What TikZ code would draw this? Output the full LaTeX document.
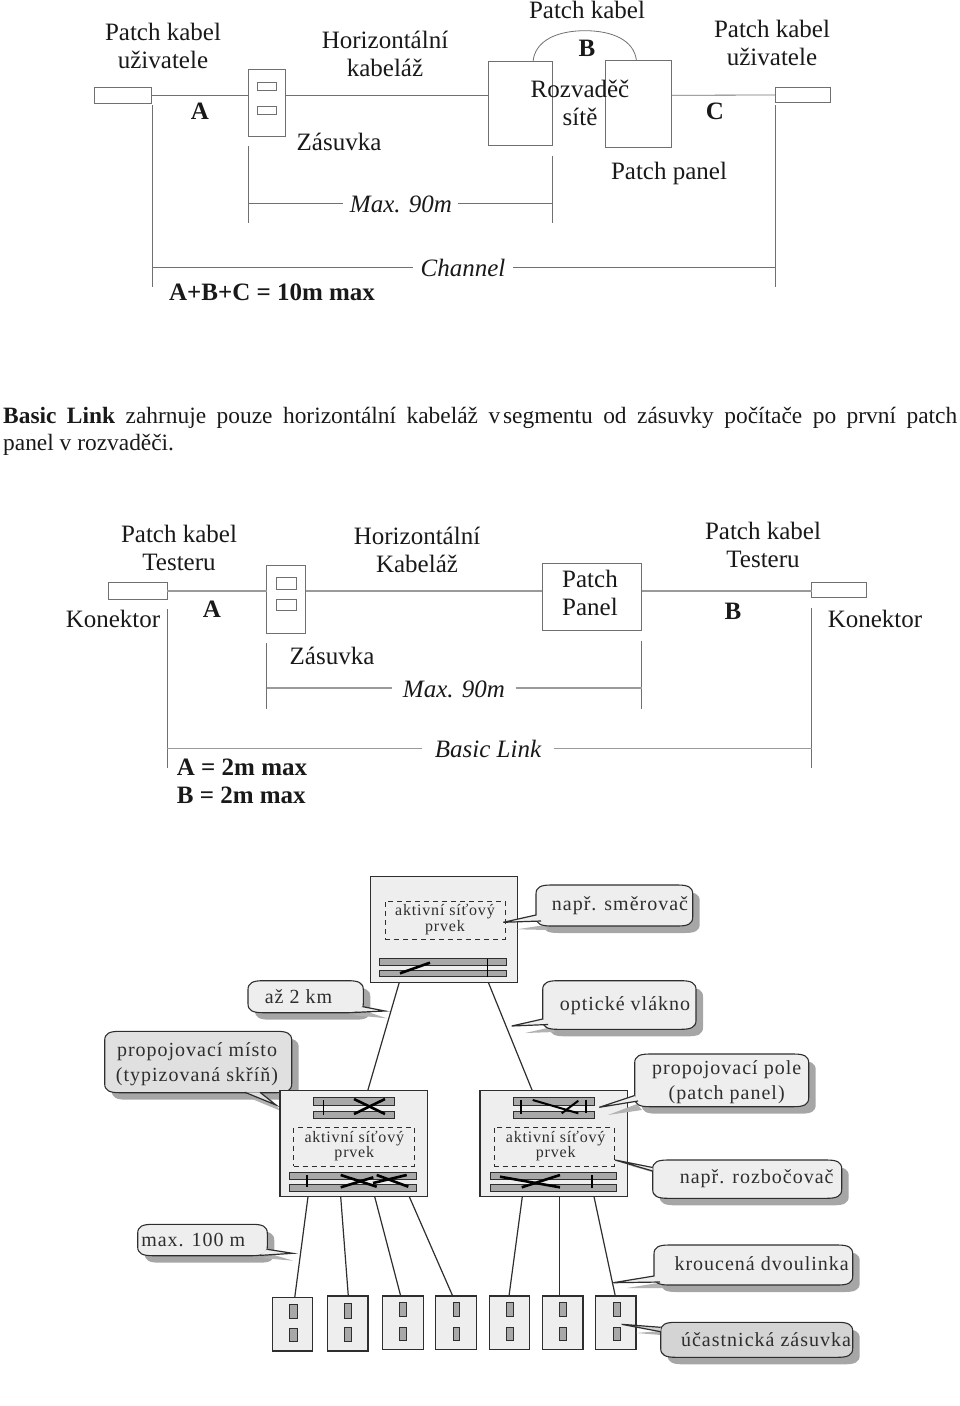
\documentclass[tikz,border=0pt]{standalone}
\usepackage{fontspec}
\setmainfont{Liberation Serif}
\newfontfamily\bmp[LetterSpace=5]{Liberation Serif}
\definecolor{lineg}{HTML}{707070}
\definecolor{lineh}{HTML}{9A9A9A}
\definecolor{ink}{HTML}{2E2E2E}
\definecolor{pale}{HTML}{EEEEEE}
\definecolor{mid}{HTML}{A8A8A8}
\definecolor{shadowgray}{HTML}{A6A6A6}
\tikzset{
  lbl/.style={font=\fontsize{25}{28}\selectfont,align=center,inner sep=0,text=black!90},
  lblb/.style={lbl,font=\fontsize{25}{28}\selectfont\bfseries},
  lbli/.style={lbl,font=\fontsize{25}{28}\selectfont\itshape},
  thin box/.style={draw=lineg,line width=0.8pt,fill=white},
  hline/.style={draw=lineg,line width=0.8pt},
  hthick/.style={draw=lineh,line width=1.3pt},
  sbox/.style={draw=ink,line width=1.2pt,fill=pale},
  bar/.style={draw=ink,line width=0.9pt,fill=mid},
  dbox/.style={draw=ink,line width=1pt,dash pattern=on 5pt off 4pt},
  mark thick/.style={draw=black,line width=2.6pt},
  mark thin/.style={draw=black,line width=1.4pt},
  cable/.style={draw=ink,line width=1.2pt},
  ctext/.style={font=\bmp\fontsize{20}{25.5}\selectfont,align=center,inner sep=0,text=ink},
  itext/.style={font=\bmp\fontsize{16}{15.5}\selectfont,align=center,inner sep=0,text=ink},
}
\newcommand\bx[6]{\node[#6,rectangle,inner sep=0pt,outer sep=0pt,minimum width={(#4-(#2))*1pt},minimum height={(#5-(#3))*1pt}] (#1) at ({(#2+#4)/2},{(#3+#5)/2}) {};}
\newcommand\cpath[4]{({#1+15},#2) -- ({#3-15},#2) .. controls ({#3-5},#2) and (#3,{#2+2}) .. (#3,{#2+9}) -- (#3,{#4-9}) .. controls (#3,{#4-2}) and ({#3-5},#4) .. ({#3-15},#4) -- ({#1+15},#4) .. controls ({#1+5},#4) and (#1,{#4-2}) .. (#1,{#4-9}) -- (#1,{#2+9}) .. controls (#1,{#2+2}) and ({#1+5},#2) .. ({#1+15},#2) -- cycle}
% shadow body: x1 y1 x2 y2
\newcommand\cshadow[4]{\fill[shadowgray] \cpath{#1+7}{#2+7}{#3+7}{#4+7};}
% light shadow tail: a tip b
\newcommand\cstail[3]{\fill[black!30] #1 -- #2 -- #3 -- cycle;}
\newcommand\cbody[5]{\draw[draw=ink,line width=1.1pt,fill=#5] \cpath{#1}{#2}{#3}{#4};}
% tail: a tip b fill
\newcommand\ctail[4]{\fill[#4] #1 -- #2 -- #3 -- cycle; \draw[draw=ink,line width=1.2pt] #1 -- #2 -- #3;}
\begin{document}
\begin{tikzpicture}[x=1pt,y=-1pt]
\useasboundingbox (0,0) rectangle (960,1406);

% ---------- first diagram ----------
\bx{cl}{94.4}{87}{151.7}{103.5}{thin box}
\bx{ou}{248.2}{69.7}{285.5}{136.3}{thin box}
\bx{ouA}{257.2}{82.7}{276.6}{90.7}{thin box}
\bx{ouB}{257.2}{106}{276.6}{114.3}{thin box}
\bx{pa}{488.1}{61.7}{552.8}{145.7}{thin box}
\bx{pb}{605}{60.3}{671.8}{147}{thin box}
\bx{cr}{775.3}{87.3}{830}{102.7}{thin box}
\draw[hline] (cl.east) -- (cl.east -| ou.west);
\draw[hline] (cl.east -| ou.east) -- (cl.east -| pa.west);
\draw[hline] (cl.east -| pb.east) -- (cr.west);
\draw[hline] (533,61.7) .. controls (535,40) and (558,30.7) .. (585,30.7) .. controls (612,30.7) and (634,40) .. (636.4,60.3);
\coordinate (d1a) at (248.2,145.7); \coordinate (d1b) at (248.2,223.3);
\coordinate (d2a) at (552.8,155.7); \coordinate (d2b) at (552.8,223.3);
\coordinate (d1m) at (248.2,203.3); \coordinate (d2m) at (552.8,203.3);
\draw[hline] (d1a) -- (d1b); \draw[hline] (d2a) -- (d2b);
\node[lbli] (max1) at (401,204) {Max. 90m};
\draw[hline] (d1m) -- (342.8,203.3); \draw[hline] (458.2,203.3) -- (d2m);
\coordinate (e1a) at (152.2,105); \coordinate (e1b) at (152.2,287.3);
\coordinate (e2a) at (775.3,105); \coordinate (e2b) at (775.3,287.3);
\coordinate (e1m) at (152.2,267.3); \coordinate (e2m) at (775.3,267.3);
\draw[hline] (e1a) -- (e1b); \draw[hline] (e2a) -- (e2b);
\node[lbli] (chan) at (463,268) {Channel};
\draw[hline] (e1m) -- (412.5,267.3); \draw[hline] (513,267.3) -- (e2m);

\node[lbl] (t1) at (163,46) {Patch kabel\\uživatele};
\node[lblb] (t2) at (200,111) {A};
\node[lbl] (t3) at (385,54) {Horizontální\\kabeláž};
\node[lbl] (t4) at (587,10) {Patch kabel};
\node[lblb] (t5) at (587,48) {B};
\node[lbl] (t6) at (580,103) {Rozvaděč\\sítě};
\node[lbl] (t7) at (772,43) {Patch kabel\\uživatele};
\node[lblb] (t8) at (715,111) {C};
\node[lbl] (t9) at (339,142) {Zásuvka};
\node[lbl] (t10) at (669,173) {Patch panel};
\node[lblb] (t11) at (272,292) {A+B+C = 10m max};

% ---------- paragraph ----------
\node[anchor=north west,text width=954pt,inner sep=0,align=justify,font=\fontsize{23.4}{27}\selectfont,text=black!90] (para) at (3,407)
 {\textbf{Basic Link} zahrnuje pouze horizontální kabeláž v\hspace{0.12em}segmentu od zásuvky počítače po první patch\linebreak panel v rozvaděči.};

% ---------- second diagram ----------
\bx{kl}{108.3}{582.7}{167.2}{599.3}{thin box}
\bx{zs}{266.7}{565}{305.6}{633.3}{thin box}
\bx{zsA}{276}{577.7}{296}{589.3}{thin box}
\bx{zsB}{276}{599.3}{296}{610.7}{thin box}
\bx{pp}{542.2}{563.3}{641.7}{630}{thin box}
\bx{kr}{811.7}{582.7}{866.7}{597.3}{thin box}
\draw[hthick] (kl.east) -- (kl.east -| zs.west);
\draw[hthick] (kl.east -| zs.east) -- (kl.east -| pp.west);
\draw[hthick] (kl.east -| pp.east) -- (kl.east -| kr.west);
\coordinate (f1a) at (266.7,643.3); \coordinate (f1b) at (266.7,708.7);
\coordinate (f2a) at (641.7,640.7); \coordinate (f2b) at (641.7,708.7);
\coordinate (f1m) at (266.7,688); \coordinate (f2m) at (641.7,688);
\draw[hline] (f1a) -- (f1b); \draw[hline] (f2a) -- (f2b);
\draw[hthick] (f1m) -- (392,688); \draw[hthick] (515.6,688) -- (f2m);
\coordinate (g1a) at (167.2,609.3); \coordinate (g1b) at (167.2,768.3);
\coordinate (g2a) at (811.7,607.7); \coordinate (g2b) at (811.7,768.3);
\coordinate (g1m) at (167.2,748.3); \coordinate (g2m) at (811.7,748.3);
\draw[hline] (g1a) -- (g1b); \draw[hline] (g2a) -- (g2b);
\draw[hthick] (g1m) -- (422,748.3); \draw[hthick] (554.4,748.3) -- (g2m);

\node[lbl] (u1) at (179,548) {Patch kabel\\Testeru};
\node[lblb] (u2) at (212,609) {A};
\node[lbl] (u3) at (113,619) {Konektor};
\node[lbl] (u4) at (417,550) {Horizontální\\Kabeláž};
\node[lbl] (u5) at (590,593) {Patch\\Panel};
\node[lbl] (u6) at (763,545) {Patch kabel\\Testeru};
\node[lblb] (u7) at (733,611) {B};
\node[lbl] (u8) at (875,619) {Konektor};
\node[lbl] (u9) at (332,656) {Zásuvka};
\node[lbli] (u10) at (454,689) {Max. 90m};
\node[lbli] (u11) at (488,749) {Basic Link};
\node[lblb,align=left] (u12) at (242,781) {A = 2m max\\B = 2m max};

% ---------- third diagram ----------
% callout behind the left box
\cshadow{104.7}{1031.3}{291.7}{1092.7}
\cstail{(252,1099)}{(281,1111)}{(270,1099)}
\cbody{104.7}{1031.3}{291.7}{1092.7}{black!12}
\ctail{(245,1092.3)}{(276,1105)}{(260,1092.3)}{black!12}
\node[ctext] (n1) at (197,1064) {propojovací místo\\(typizovaná skříň)};

% boxes
\bx{top}{370.3}{876.3}{517.7}{982.3}{sbox}
\bx{lb}{280}{1090.7}{427.3}{1196.7}{sbox}
\bx{rb}{480}{1090.7}{627.3}{1196.7}{sbox}

\bx{topd}{385.3}{901}{505}{939.3}{dbox}
\node[itext] (n2) at (445,919.5) {aktivní síťový\\prvek};
\bx{topa}{379.7}{958.7}{506.7}{965.3}{bar}
\bx{topb}{379.7}{970}{506.7}{976.7}{bar}
\draw[mark thick] (400,973.3) -- (430,962.7);
\draw[mark thin] (487.3,958.7) -- (487.3,977);

\bx{lbta}{313.3}{1097.3}{394.3}{1105}{bar}
\bx{lbtb}{313.3}{1111}{394.3}{1118.3}{bar}
\draw[mark thin] (323.7,1100) -- (323.7,1115);
\draw[mark thick] (354,1099) -- (385,1114);
\draw[mark thick] (354,1114) -- (385,1099);
\bx{lbd}{293.7}{1127.7}{414}{1166}{dbox}
\node[itext] (n3) at (354.3,1146) {aktivní síťový\\prvek};
\bx{lbba}{289.3}{1172.7}{416.7}{1179.3}{bar}
\bx{lbbb}{289.3}{1184}{416.7}{1191}{bar}
\draw[mark thin] (307,1175) -- (307,1187.3);
\draw[mark thick] (340.7,1175) -- (376.7,1186.7);
\draw[mark thick] (340.7,1187.3) -- (373.3,1177.3);
\draw[mark thick] (373,1183) -- (406.7,1175);
\draw[mark thick] (376.7,1175) -- (408.3,1186.7);

\bx{rbta}{513.3}{1097.3}{594.3}{1105}{bar}
\bx{rbtb}{513.3}{1111}{594.3}{1118.3}{bar}
\draw[mark thin] (521,1100) -- (521,1114);
\draw[mark thin] (586,1100) -- (586,1113);
\draw[line width=2pt,black] (532.7,1100) -- (578.3,1113.3);
\draw[line width=2pt,black] (578.3,1100.7) -- (561.7,1113.3);
\bx{rbd}{494}{1127.7}{614}{1166}{dbox}
\node[itext] (n4) at (555.7,1146) {aktivní síťový\\prvek};
\bx{rbba}{490}{1172.7}{616.7}{1179.3}{bar}
\bx{rbbb}{490}{1184}{616.7}{1191}{bar}
\draw[mark thick] (500,1176.7) -- (560,1187.3);
\draw[mark thick] (521.7,1187.3) -- (560,1175);
\draw[mark thin] (592,1175) -- (592,1188);

% outlets
\bx{o1}{272.7}{1297.7}{312.3}{1351}{sbox}
\bx{o1a}{289.7}{1304.7}{297}{1318}{bar}
\bx{o1b}{289.7}{1328}{297}{1341.3}{bar}
\bx{o2}{327.3}{1296}{368}{1351}{sbox}
\bx{o2a}{344.7}{1303.3}{351.3}{1318}{bar}
\bx{o2b}{344.7}{1327}{351.3}{1341.3}{bar}
\bx{o3}{382.3}{1296}{423.3}{1349.3}{sbox}
\bx{o3a}{399.3}{1302}{406.7}{1316.7}{bar}
\bx{o3b}{399.3}{1327}{406.7}{1340}{bar}
\bx{o4}{435.3}{1296}{476.3}{1349.3}{sbox}
\bx{o4a}{453.3}{1302}{459.7}{1316.7}{bar}
\bx{o4b}{453.3}{1327}{459.7}{1340}{bar}
\bx{o5}{489.7}{1296}{529.3}{1349.3}{sbox}
\bx{o5a}{506.3}{1302}{513.7}{1316.7}{bar}
\bx{o5b}{506.3}{1327}{513.7}{1340}{bar}
\bx{o6}{542.3}{1296}{583}{1349.3}{sbox}
\bx{o6a}{559.3}{1302}{566.7}{1316.7}{bar}
\bx{o6b}{559.3}{1327}{566.7}{1340}{bar}
\bx{o7}{595.3}{1296}{636}{1349.3}{sbox}
\bx{o7a}{613.3}{1302}{620.7}{1316.7}{bar}
\bx{o7b}{613.3}{1327}{620.7}{1340}{bar}

% cables
\draw[cable] ([xshift=29pt]top.south west) -- ([xshift=87.7pt]lb.north west);
\draw[cable] ([xshift=118pt]top.south west) -- ([xshift=52.3pt]rb.north west);
\draw[cable] ([xshift=28pt]lb.south west) -- ([xshift=22pt]o1.north west);
\draw[cable] ([xshift=60.7pt]lb.south west) -- ([xshift=21pt]o2.north west);
\draw[cable] ([xshift=94.7pt]lb.south west) -- ([xshift=18.4pt]o3.north west);
\draw[cable] ([xshift=129.3pt]lb.south west) -- ([xshift=17.4pt]o4.north west);
\draw[cable] ([xshift=42.3pt]rb.south west) -- ([xshift=19.3pt]o5.north west);
\draw[cable] ([xshift=79.3pt]rb.south west) -- ([xshift=17pt]o6.north west);
\draw[cable] ([xshift=114pt]rb.south west) -- ([xshift=20pt]o7.north west);

% callouts
\cshadow{248}{980.7}{363.3}{1012.7}
\cstail{(352,1015)}{(386.7,1018.3)}{(368,1012)}
\cbody{248}{980.7}{363.3}{1012.7}{pale}
\ctail{(355,1012.4)}{(385,1011)}{(363,1006.7)}{pale}
\node[ctext] (n5) at (298.5,997) {až 2 km};

\cshadow{536}{885}{692.7}{926}
\cstail{(516.7,929.3)}{(545,925)}{(548,930)}
\cbody{536}{885}{692.7}{926}{pale}
\ctail{(536,915)}{(503.3,922.3)}{(541,921)}{pale}
\node[ctext] (n6) at (620,906) {např. směrovač};

\cshadow{542.7}{980.7}{696}{1029.3}
\cstail{(525,1033)}{(552,1027)}{(555,1032)}
\cbody{542.7}{980.7}{696}{1029.3}{pale}
\ctail{(542.7,1019)}{(511.7,1026)}{(548,1024.5)}{pale}
\node[ctext] (n7) at (625,1006) {optické vlákno};

\cshadow{634.7}{1054}{808.7}{1106.7}
\cstail{(608,1115)}{(637,1104)}{(642,1110)}
\cbody{634.7}{1054}{808.7}{1106.7}{pale}
\ctail{(634.7,1095.5)}{(599.3,1107.3)}{(638,1101)}{pale}
\node[ctext] (n8) at (726.7,1082) {propojovací pole\\(patch panel)};

\cshadow{652.7}{1160}{841.7}{1198.3}
\cstail{(628,1165)}{(655,1170)}{(652,1172)}
\cbody{652.7}{1160}{841.7}{1198.3}{pale}
\ctail{(652.7,1167.5)}{(615,1160)}{(652.7,1171)}{pale}
\node[ctext] (n9) at (756.7,1179) {např. rozbočovač};

\cshadow{654}{1245}{852.7}{1285}
\cstail{(626.7,1288)}{(658,1283)}{(664,1288)}
\cbody{654}{1245}{852.7}{1285}{pale}
\ctail{(654,1276)}{(613.3,1282.7)}{(660,1282)}{pale}
\node[ctext] (n10) at (761.7,1264) {kroucená dvoulinka};

\cshadow{660.7}{1322.3}{852.7}{1357.3}
\cstail{(636,1333)}{(661,1331)}{(661,1335)}
\cbody{660.7}{1322.3}{852.7}{1357.3}{black!17}
\ctail{(660.7,1327.3)}{(621.7,1324.3)}{(660.7,1331.7)}{black!17}
\node[ctext] (n11) at (766,1340) {účastnická zásuvka};

\cshadow{137.7}{1224.3}{267.3}{1255.7}
\cstail{(262,1258)}{(293.3,1260.7)}{(274,1255)}
\cbody{137.7}{1224.3}{267.3}{1255.7}{pale}
\ctail{(260,1255.4)}{(292.7,1253.3)}{(267.3,1249.3)}{pale}
\node[ctext] (n12) at (193.3,1240) {max. 100 m};
\end{tikzpicture}
\end{document}
